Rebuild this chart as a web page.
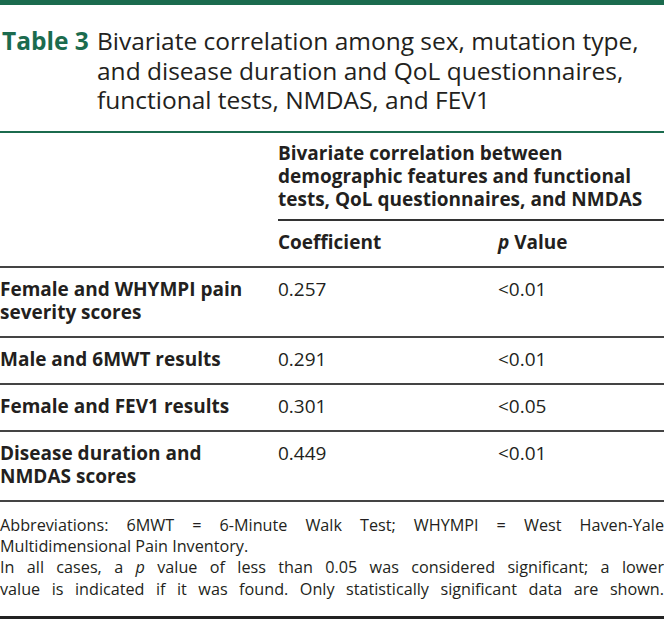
<!DOCTYPE html>
<html>
<head>
<meta charset="utf-8">
<script src="https://cdn.jsdelivr.net/npm/chart.js@4"></script>
<style>
  html, body { margin: 0; padding: 0; background: #fff; }
  body { width: 664px; height: 633px; overflow: hidden; font-family: "Open Sans", sans-serif; color: #231f20; }
  .bar { height: 5px; background: #1b6b4e; }
  .title { display: flex; margin-top: 21px; font-size: 24.5px; line-height: 29.5px; }
  .title .num { color: #1b6b4e; font-weight: 700; width: 97px; padding-left: 2px; box-sizing: border-box; flex: none; }
  .title .txt { flex: 1; }
  .green-rule { height: 2px; background: #1b6b4e; margin-top: 16px; }
  table { border-collapse: collapse; width: 664px; font-size: 19px; line-height: 23px; }
  td { padding: 0; vertical-align: top; }
  .grp { font-weight: 700; line-height: 23px; padding: 9px 0 8px 0; }
  .grp-rule td.r { border-bottom: 2px solid #333; }
  .colhead td { font-weight: 700; padding: 10px 0 12px 0; }
  .colhead { border-bottom: 2px solid #444; }
  .row td { padding: 10px 0 12px 0; }
  .row { border-bottom: 2px solid #444; }
  .row td.lab { font-weight: 700; padding-right: 12px; }
  .notes { font-size: 16.2px; line-height: 21.4px; margin-top: 13px; }
  .notes span { display: block; text-align: justify; text-align-last: justify; white-space: nowrap; }
  .bottom { height: 3px; background: #222; margin-top: 16px; }
</style>
</head>
<body>
<div class="bar"></div>
<div class="title"><div class="num" id="tnum"></div><div class="txt" id="ttxt"></div></div>
<div class="green-rule"></div>
<table id="tbl"></table>
<div class="notes" id="notes"></div>
<div class="bottom"></div>
<script>
const tableNumber = "Table 3";
const titleText = "Bivariate correlation among sex, mutation type, and disease duration and QoL questionnaires, functional tests, NMDAS, and FEV1";
const groupHeader = "Bivariate correlation between demographic features and functional tests, QoL questionnaires, and NMDAS";
const columnHeads = ["Coefficient", "<i>p</i> Value"];
const rowLabels = ["Female and WHYMPI pain severity scores", "Male and 6MWT results", "Female and FEV1 results", "Disease duration and NMDAS scores"];
const coefficients = ["0.257", "0.291", "0.301", "0.449"];
const pValues = ["<0.01", "<0.01", "<0.05", "<0.01"];
const noteLines = [
  "Abbreviations: 6MWT = 6-Minute Walk Test; WHYMPI = West Haven-Yale",
  "Multidimensional Pain Inventory.",
  "In all cases, a <i>p</i> value of less than 0.05 was considered significant; a lower",
  "value is indicated if it was found. Only statistically significant data are shown."
];

function esc(s) {
  return s.replace(/</g, "&lt;");
}

document.getElementById("tnum").textContent = tableNumber;
document.getElementById("ttxt").textContent = titleText;

let col1 = 278, col2 = 220;
let html = "";
html += '<tr class="grp-rule"><td style="width:' + col1 + 'px"></td><td class="grp r" colspan="2">' + groupHeader + '</td></tr>';
html += '<tr class="colhead"><td></td><td style="width:' + col2 + 'px">' + columnHeads[0] + '</td><td>' + columnHeads[1] + '</td></tr>';
for (let i = 0; i < rowLabels.length; i++) {
  html += '<tr class="row"><td class="lab">' + rowLabels[i] + '</td><td>' + esc(coefficients[i]) + '</td><td>' + esc(pValues[i]) + '</td></tr>';
}
document.getElementById("tbl").innerHTML = html;

// footnote lines, justified; squeeze the ones that are too long
let notes = document.getElementById("notes");
noteLines.forEach(function (line, i) {
  let s = document.createElement("span");
  s.innerHTML = line;
  if (i == 1) s.style.textAlignLast = "left";
  notes.appendChild(s);
  let probe = document.createElement("span");
  probe.style.display = "inline";
  probe.innerHTML = line;
  notes.appendChild(probe);
  let w = probe.getBoundingClientRect().width;
  notes.removeChild(probe);
  if (w > 663) {
    let plain = line.replace(/<[^>]+>/g, "");
    let spaces = plain.split(" ").length - 1;
    let over = w - 663;
    let ws = Math.min(over / spaces, 2.5);
    s.style.wordSpacing = (-ws).toFixed(3) + "px";
    over -= ws * spaces;
    if (over > 0) s.style.letterSpacing = (-over / plain.length).toFixed(3) + "px";
  }
});
</script>
</body>
</html>
